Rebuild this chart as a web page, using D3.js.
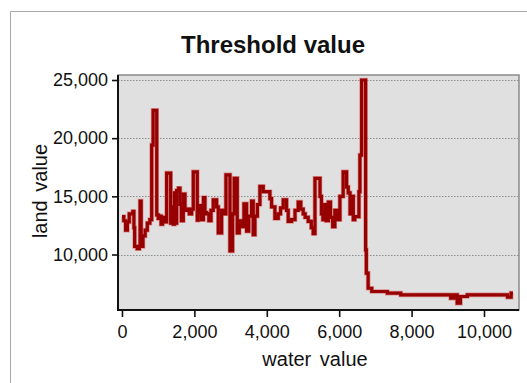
<!DOCTYPE html>
<html>
<head>
<meta charset="utf-8">
<script src="https://cdn.jsdelivr.net/npm/d3@7"></script>
<style>
  body { margin: 0; background: #fff; }
  svg text { font-family: "Liberation Sans", Arial, sans-serif; fill: #111; }
</style>
</head>
<body>
<svg id="chart" width="527" height="383"></svg>
<script>
// water value (x) / land value (y) pairs
const waterValues = [0, 50, 100, 150, 200, 300, 330, 350, 420, 480, 500, 530, 580, 640, 700, 770, 820, 860, 960,
  1000, 1040, 1080, 1120, 1180, 1234, 1345, 1380, 1418, 1450, 1480, 1510, 1560, 1602, 1640, 1694, 1740, 1800,
  1860, 1924, 1970, 2080, 2108, 2160, 2200, 2250, 2292, 2338, 2400, 2460, 2522, 2614, 2660, 2752, 2800, 2872,
  2983, 3055, 3101, 3184, 3240, 3304, 3369, 3442, 3500, 3580, 3626, 3672, 3740, 3810, 3902, 4086, 4132, 4224,
  4316, 4380, 4454, 4546, 4592, 4684, 4780, 4868, 4940, 5006, 5060, 5144, 5230, 5282, 5331, 5470, 5510, 5550,
  5600, 5640, 5700, 5760, 5820, 5880, 5940, 6020, 6110, 6205, 6250, 6300, 6350, 6390, 6430, 6545, 6573, 6620,
  6730, 6750, 6800, 6900, 7330, 7700, 9080, 9170, 9260, 9350, 9540, 10650, 10750, 10800];
const landValues = [13250, 12900, 12100, 12800, 13500, 13700, 12300, 10700, 10500, 10700, 14600, 10700, 11600,
  12100, 12700, 13000, 19400, 22400, 13400, 13100, 13300, 12600, 13200, 12800, 17000, 12700, 14100, 12600, 15300,
  12700, 15500, 15700, 14300, 12900, 15200, 13800, 13900, 13500, 13900, 17100, 12950, 13600, 14200, 13000, 14900,
  13600, 13500, 12900, 13800, 14700, 14100, 11850, 13800, 13500, 16850, 10300, 13500, 16550, 11850, 12900, 12400,
  14350, 12000, 13300, 14600, 11700, 13300, 14300, 15850, 15400, 14800, 14100, 13100, 13500, 14000, 14700, 13800,
  12850, 13000, 13800, 14500, 13900, 13500, 13200, 12850, 12300, 11800, 16550, 15000, 13500, 13000, 14300, 12900,
  14500, 13200, 12400, 13800, 13000, 15000, 17100, 15800, 15300, 13500, 15000, 13000, 13250, 15400, 18550, 25000,
  10400, 8400, 7100, 6820, 6680, 6530, 6240, 6530, 5820, 6390, 6530, 6330, 6680, 6680];
const xTicks = [0, 2000, 4000, 6000, 8000, 10000];
const yTicks = [10000, 15000, 20000, 25000];

const points = waterValues.map((w, i) => ({ water: w, land: landValues[i] }));

const svg = d3.select("#chart");
const plot = { left: 118, right: 519, top: 75, bottom: 310 };

const x = d3.scaleLinear().domain([-110, 10967]).range([plot.left, plot.right]);
const y = d3.scaleLinear().domain([5230, 25430]).range([plot.bottom, plot.top]);
const fmt = d3.format(",");

// outer frame
svg.append("path")
  .attr("d", "M10.5,383 V11.5 H527")
  .attr("fill", "none")
  .attr("stroke", "#a8a8a8");

// plot background + light border
svg.append("rect")
  .attr("x", plot.left)
  .attr("y", plot.top)
  .attr("width", plot.right - plot.left)
  .attr("height", plot.bottom - plot.top)
  .attr("fill", "#e0e0e0")
  .attr("stroke", "#8a8a8a")
  .attr("stroke-width", 1.5);

// dotted grid
svg.append("g")
  .selectAll("line").data(yTicks).enter().append("line")
  .attr("x1", plot.left)
  .attr("x2", plot.right)
  .attr("y1", d => Math.round(y(d)) + 0.5)
  .attr("y2", d => Math.round(y(d)) + 0.5)
  .attr("stroke", "#8c8c8c")
  .attr("stroke-dasharray", "1.5,1.5");

// data line (soft red halo under a dark red core)
const line = d3.line()
  .x(d => x(d.water))
  .y(d => y(d.land))
  .curve(d3.curveStepAfter);

svg.append("path")
  .datum(points)
  .attr("d", line)
  .attr("fill", "none")
  .attr("stroke", "#d85050")
  .attr("stroke-width", 4.6)
  .attr("stroke-opacity", 0.55);

svg.append("path")
  .datum(points)
  .attr("d", line)
  .attr("fill", "none")
  .attr("stroke", "#960000")
  .attr("stroke-width", 3.2);

// axes
const xAxis = svg.append("g")
  .attr("transform", `translate(0,${plot.bottom})`)
  .call(d3.axisBottom(x).tickValues(xTicks).tickFormat(fmt).tickSize(7).tickPadding(8));

const yAxis = svg.append("g")
  .attr("transform", `translate(${plot.left},0)`)
  .call(d3.axisLeft(y).tickValues(yTicks).tickFormat(fmt).tickSize(6).tickPadding(4));

[xAxis, yAxis].forEach(axis => {
  axis.select(".domain").remove();
  axis.selectAll("line").attr("stroke", "#111").attr("stroke-width", 1.6);
  axis.selectAll("text")
    .attr("fill", "#111")
    .style("font-size", "18px")
    .style("font-family", "'Liberation Sans', Arial, sans-serif");
});

// dark axis lines on left and bottom
svg.append("path")
  .attr("d", `M${plot.left},${plot.top} V${plot.bottom} H${plot.right}`)
  .attr("fill", "none")
  .attr("stroke", "#111")
  .attr("stroke-width", 2);

// titles
svg.append("text")
  .attr("x", 273)
  .attr("y", 53)
  .attr("text-anchor", "middle")
  .style("font-size", "24px")
  .style("font-weight", "bold")
  .text("Threshold value");

svg.append("text")
  .attr("x", 315)
  .attr("y", 366)
  .attr("text-anchor", "middle")
  .style("font-size", "20px")
  .style("word-spacing", "3px")
  .text("water value");

svg.append("text")
  .attr("transform", "translate(47,191) rotate(-90)")
  .attr("text-anchor", "middle")
  .style("font-size", "20px")
  .style("word-spacing", "3px")
  .text("land value");
</script>
</body>
</html>
